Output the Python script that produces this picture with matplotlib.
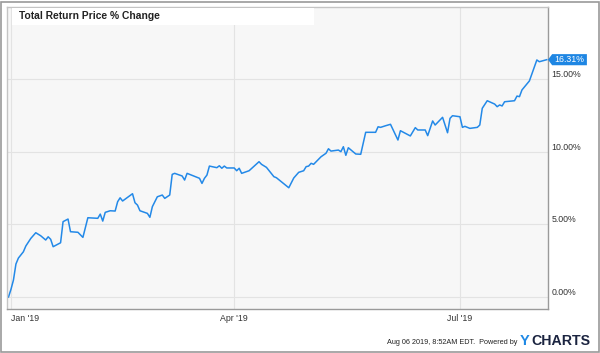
import pandas as pd
import matplotlib
matplotlib.use('Agg')
import matplotlib.pyplot as plt
import matplotlib.transforms as mtransforms
from matplotlib.patches import Polygon, Rectangle

# days after 2019-01-01 for each point of the line
start = pd.Timestamp('2019-01-01')
day_offsets = [
    -1, 0, 1, 2, 3, 5, 6, 8, 10, 12, 14, 15, 16, 17, 20, 21, 23, 24, 27, 29,
    31, 35, 36, 37, 38, 40, 42, 43, 44, 45, 49, 50, 51, 52, 55, 56, 57, 59, 61, 62,
    64, 65, 66, 69, 70, 71, 76, 77, 78, 79, 80, 83, 84, 85, 86, 87, 90, 91, 92, 93,
    96, 100, 101, 103, 106, 107, 112, 114, 116, 118, 119, 120, 121, 122, 125, 127, 128, 129, 132, 133,
    134, 135, 136, 139, 141, 143, 147, 148, 149, 151, 153, 156, 157, 161, 163, 164, 167, 168, 170, 171,
    174, 176, 177, 178, 181, 182, 183, 185, 188, 189, 190, 192, 195, 196, 197, 198, 199, 203, 204, 205,
    206, 209, 212, 213, 216,
]
pct_change = [
    0.00, 0.53, 1.17, 2.27, 2.68, 3.11, 3.51, 4.03, 4.42, 4.21, 3.92, 4.14, 3.97, 3.46, 3.73, 5.18, 5.36, 4.49, 4.45, 4.10,
    5.45, 5.41, 5.70, 5.22, 5.82, 5.93, 5.91, 6.55, 6.82, 6.60, 7.10, 6.48, 6.32, 5.93, 5.75, 5.48, 6.21, 6.89, 7.01, 6.78,
    7.01, 8.43, 8.50, 8.32, 8.04, 8.50, 8.16, 7.81, 8.16, 8.38, 9.00, 8.89, 9.02, 8.85, 9.00, 8.87, 8.87, 8.68, 8.85, 8.50,
    8.68, 9.30, 9.12, 8.91, 8.27, 8.20, 7.51, 8.18, 8.57, 8.68, 8.96, 9.00, 9.19, 9.12, 9.64, 9.88, 10.19, 10.03, 10.10, 9.99,
    10.33, 9.74, 10.26, 9.83, 9.81, 11.32, 11.32, 11.70, 11.66, 11.77, 11.87, 10.79, 11.43, 11.07, 11.64, 11.48, 11.48, 11.09, 12.10, 11.82,
    12.35, 11.29, 12.28, 12.46, 12.39, 11.66, 11.73, 11.59, 11.66, 11.82, 12.97, 13.49, 13.26, 13.08, 13.20, 13.13, 13.42, 13.49, 13.81, 13.77,
    14.23, 14.85, 16.29, 16.17, 16.31,
]

tick_dates = ['2019-01-01', '2019-04-01', '2019-07-01']
tick_labels = ["Jan '19", "Apr '19", "Jul '19"]
y_ticks = [0, 5, 10, 15]
y_tick_labels = ['0.00%', '5.00%', '10.00%', '15.00%']
title = 'Total Return Price % Change'
stamp = 'Aug 06 2019, 8:52AM EDT.  Powered by'

plt.rcParams['font.family'] = ['Liberation Sans', 'DejaVu Sans']

dates = start + pd.to_timedelta(day_offsets, unit='D')

W, H = 600, 353
fig = plt.figure(figsize=(W / 100, H / 100), dpi=100)
ax = fig.add_axes([7 / W, 1 - 308.7 / H, (548 - 7) / W, (308.7 - 7) / H])
ax.set_facecolor('#f7f7f7')

ax.plot(dates, pct_change, color='#2389e8', lw=1.1, solid_joinstyle='round')

ax.set_xlim(start - pd.Timedelta(days=1.6), start + pd.Timedelta(days=216.5))
ax.set_ylim(-0.8, 19.93)

ax.set_xticks(pd.to_datetime(tick_dates))
ax.set_xticklabels(tick_labels)
ax.set_yticks(y_ticks)
ax.set_yticklabels(y_tick_labels)
ax.yaxis.tick_right()
ax.tick_params(length=0, labelsize=6.3, colors='#333333')
ax.tick_params(axis='x', pad=3.6)
ax.tick_params(axis='y', pad=2.5)
for lbl in ax.get_yticklabels():
    lbl.set_va('bottom')
ax.get_xticklabels()[0].set_ha('left')

ax.grid(color='#e3e3e3', lw=0.8)
for side in ['left', 'top']:
    ax.spines[side].set_color('#c4c4c4')
for side in ['right', 'bottom']:
    ax.spines[side].set_color('#9a9a9a')
for sp in ax.spines.values():
    sp.set_linewidth(1.0)

# white title strip over the plot area
fig.add_artist(Rectangle((12 / W, 1 - 25 / H), 302 / W, 17 / H, transform=fig.transFigure,
                         facecolor='white', edgecolor='none', zorder=3))
fig.text(19 / W, 1 - 16 / H, title, fontsize=7.4, fontweight='bold', color='#222222',
         ha='left', va='center', zorder=4)

# last value tag on the right axis
last = pct_change[-1]
anchor = mtransforms.blended_transform_factory(ax.transAxes, ax.transData)
tag_trans = mtransforms.Affine2D().scale(fig.dpi / 72) + mtransforms.ScaledTranslation(1.0, last, anchor)
tag = Polygon([(0, 0), (3, 4), (28, 4), (28, -4), (3, -4)], closed=True, transform=tag_trans,
              facecolor='#1e86e3', edgecolor='none', zorder=5)
ax.add_artist(tag)
tag.set_clip_on(False)
ax.annotate(f'{last:.2f}%', xy=(1.0, last), xycoords=anchor, xytext=(15.5, 0),
            textcoords='offset points', ha='center', va='center', fontsize=6.3,
            color='white', annotation_clip=False, zorder=6)

# footer
fig.text(517 / W, 1 - 342 / H, stamp, fontsize=5.2, color='#222222', ha='right', va='center')
fig.text(520 / W, 1 - 341 / H, 'Y', fontsize=10.5, fontweight='bold', color='#1e88e5',
         ha='left', va='center')
fig.text(531 / W, 1 - 341 / H, 'CHARTS', fontsize=10.2, fontweight='bold', color='#1b2440',
         ha='left', va='center')

# outer frame
fig.add_artist(Rectangle((1 / W, 1 / H), (W - 2.5) / W, (H - 2.5) / H, transform=fig.transFigure,
                         fill=False, edgecolor='#9a9a9a', lw=1.2))

fig.savefig('out.png', dpi=100)
